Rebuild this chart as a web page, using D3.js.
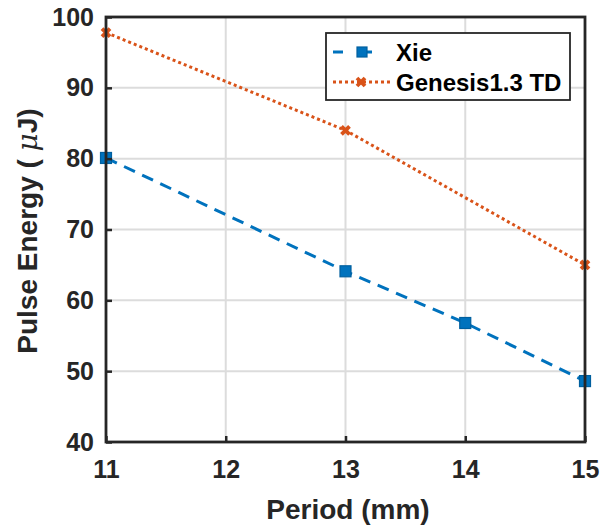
<!DOCTYPE html>
<html>
<head>
<meta charset="utf-8">
<script src="https://cdn.jsdelivr.net/npm/d3@7"></script>
<style>
  html, body { margin: 0; padding: 0; background: #fff; }
  svg { display: block; font-family: "Liberation Sans", Arial, Helvetica, sans-serif; }
</style>
</head>
<body>
<svg id="chart" width="601" height="526"></svg>
<script>
// Pulse energy versus undulator period
const periodsXie = [11, 13, 14, 15];
const energyXie = [80.1, 64.1, 56.8, 48.6];
const periodsGenesis = [11, 13, 15];
const energyGenesis = [97.8, 84.0, 65.0];
const xTicks = [11, 12, 13, 14, 15];
const yTicks = [40, 50, 60, 70, 80, 90, 100];
const seriesNames = ["Xie", "Genesis1.3 TD"];

(function draw() {
  const svg = d3.select("#chart");
  const plotLeft = 106, plotRight = 585, plotTop = 17, plotBottom = 442;

  const x = d3.scaleLinear().domain([11, 15]).range([plotLeft, plotRight]);
  const y = d3.scaleLinear().domain([40, 100]).range([plotBottom, plotTop]);

  const axisColor = "#262626";
  const blue = "#0072BD", orange = "#D95319";

  // grid
  const grid = svg.append("g");
  grid.selectAll(".gx").data(xTicks).join("line")
    .attr("x1", d => x(d)).attr("x2", d => x(d))
    .attr("y1", plotTop).attr("y2", plotBottom)
    .attr("stroke", "#dcdcdc").attr("stroke-width", 2);
  grid.selectAll(".gy").data(yTicks).join("line")
    .attr("y1", d => y(d)).attr("y2", d => y(d))
    .attr("x1", plotLeft).attr("x2", plotRight)
    .attr("stroke", "#dcdcdc").attr("stroke-width", 2);

  // data lines
  const line = d3.line().x(d => x(d[0])).y(d => y(d[1]));
  const xieData = periodsXie.map((p, i) => [p, energyXie[i]]);
  const genData = periodsGenesis.map((p, i) => [p, energyGenesis[i]]);

  svg.append("path").datum(xieData).attr("d", line)
    .attr("fill", "none").attr("stroke", blue).attr("stroke-width", 3)
    .attr("stroke-dasharray", "12,8");
  svg.append("path").datum(genData).attr("d", line)
    .attr("fill", "none").attr("stroke", orange).attr("stroke-width", 3)
    .attr("stroke-dasharray", "3,3");

  // markers
  function squareMarker(g, cx, cy, s) {
    g.append("rect").attr("x", cx - s / 2).attr("y", cy - s / 2)
      .attr("width", s).attr("height", s)
      .attr("fill", blue).attr("stroke", "#005f9e").attr("stroke-width", 1.2);
  }
  function crossMarker(g, cx, cy, s) {
    const h = s / 2;
    g.append("path")
      .attr("d", `M${cx - h},${cy - h}L${cx + h},${cy + h}M${cx - h},${cy + h}L${cx + h},${cy - h}`)
      .attr("stroke", orange).attr("stroke-width", 3.8).attr("fill", "none");
  }
  const mk = svg.append("g");
  xieData.forEach(d => squareMarker(mk, x(d[0]), y(d[1]), 11));
  genData.forEach(d => crossMarker(mk, x(d[0]), y(d[1]), 8));

  // axes
  const xAxis = d3.axisBottom(x).tickValues(xTicks).tickSize(-6).tickPadding(18).tickFormat(d3.format("d"));
  const yAxis = d3.axisLeft(y).tickValues(yTicks).tickSize(-6).tickPadding(12).tickFormat(d3.format("d"));

  const gx = svg.append("g").attr("transform", `translate(0,${plotBottom})`).call(xAxis);
  const gy = svg.append("g").attr("transform", `translate(${plotLeft},0)`).call(yAxis);
  [gx, gy].forEach(g => {
    g.select(".domain").remove();
    g.selectAll(".tick line").attr("stroke", axisColor).attr("stroke-width", 2.5);
    g.selectAll(".tick text").attr("fill", axisColor)
      .style("font-size", "25px").style("font-weight", "bold");
  });

  // box frame
  svg.append("rect").attr("x", plotLeft).attr("y", plotTop)
    .attr("width", plotRight - plotLeft).attr("height", plotBottom - plotTop)
    .attr("fill", "none").attr("stroke", axisColor).attr("stroke-width", 2.8);

  // axis titles
  svg.append("text").attr("x", 348).attr("y", 519)
    .attr("text-anchor", "middle").attr("fill", axisColor)
    .style("font-size", "28px").style("font-weight", "bold")
    .text("Period (mm)");

  const yl = svg.append("text")
    .attr("transform", `translate(37,231) rotate(-90)`)
    .attr("text-anchor", "middle").attr("fill", axisColor)
    .style("font-size", "28px").style("font-weight", "bold");
  yl.append("tspan").text("Pulse Energy ( ");
  yl.append("tspan").text("\u03bc").style("font-style", "italic")
    .style("font-family", "'DejaVu Serif', serif").style("font-weight", "normal");
  yl.append("tspan").text("J)");

  // legend
  const lg = svg.append("g");
  lg.append("rect").attr("x", 326).attr("y", 33).attr("width", 244).attr("height", 67)
    .attr("fill", "#fff").attr("stroke", axisColor).attr("stroke-width", 1.8);
  const legendRows = [
    { name: seriesNames[0], color: blue, y: 52, marker: "square" },
    { name: seriesNames[1], color: orange, y: 82, marker: "cross" }
  ];
  legendRows.forEach(r => {
    lg.append("line").attr("x1", 333).attr("x2", 391).attr("y1", r.y).attr("y2", r.y)
      .attr("stroke", r.color).attr("stroke-width", 3)
      .attr("stroke-dasharray", r.marker === "square" ? "10,19" : "3,3");
    if (r.marker === "square") squareMarker(lg, 362, r.y, 10);
    else crossMarker(lg, 361, r.y, 8);
    lg.append("text").attr("x", 396).attr("y", r.y + 8.5).attr("fill", "#000")
      .style("font-size", "24px").style("font-weight", "bold").text(r.name);
  });
})();
</script>
</body>
</html>
